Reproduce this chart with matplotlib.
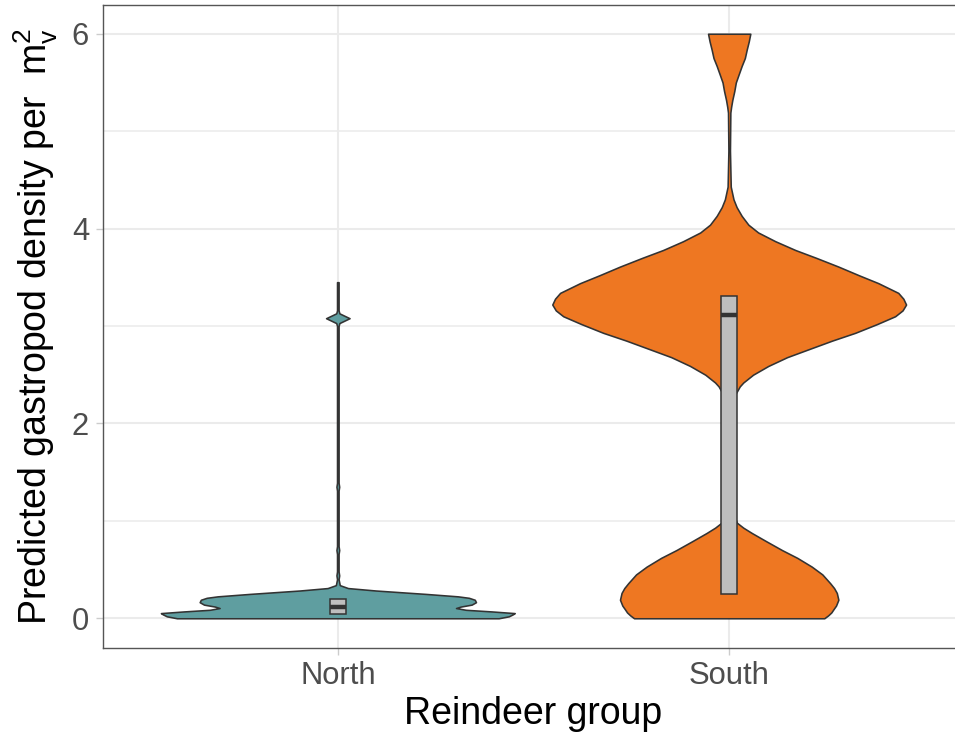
import numpy as np
import matplotlib
matplotlib.use('Agg')
import matplotlib.pyplot as plt

plt.rcParams.update({
    'font.family': ['Liberation Sans', 'DejaVu Sans'],
    'mathtext.fontset': 'custom',
    'mathtext.rm': 'Liberation Sans',
    'mathtext.it': 'Liberation Sans',
    'mathtext.bf': 'Liberation Sans:bold',
})

# ---------------------------------------------------------------------------
# data
# ---------------------------------------------------------------------------
groups = ['North', 'South']
fill_colors = ['#5F9EA0', '#EE7722']

# violin outline: y values and half-widths (x units)
north_y = [0.00, 0.02, 0.04, 0.053, 0.07, 0.087, 0.105, 0.12, 0.14, 0.165,
           0.19, 0.21, 0.225, 0.25, 0.285, 0.31, 0.34, 0.40, 0.44, 0.48,
           0.66, 0.70, 0.74, 1.31, 1.35, 1.39, 3.00, 3.03, 3.08, 3.13,
           3.16, 3.45]
north_hw = [0.411, 0.437, 0.447, 0.452, 0.394, 0.327, 0.302, 0.314, 0.342,
            0.353, 0.350, 0.335, 0.307, 0.225, 0.097, 0.026, 0.005, 0.002,
            0.0035, 0.002, 0.002, 0.0035, 0.002, 0.002, 0.0035, 0.002, 0.002,
            0.004, 0.030, 0.004, 0.002, 0.002]

south_y = [0.00, 0.03, 0.06, 0.09, 0.13, 0.19, 0.26, 0.31, 0.36, 0.45,
           0.53, 0.62, 0.70, 0.79, 0.875, 0.93, 0.98, 1.10, 1.50, 2.00,
           2.25, 2.33, 2.38, 2.42, 2.50, 2.59, 2.68, 2.76, 2.85, 2.93,
           3.02, 3.10, 3.16, 3.22, 3.28, 3.34, 3.44, 3.52, 3.61, 3.70,
           3.78, 3.87, 3.96, 4.04, 4.13, 4.22, 4.30, 4.43, 4.80, 5.19,
           5.25, 5.32, 5.41, 5.50, 5.58, 5.67, 5.75, 5.84, 5.92, 6.00]
south_hw = [0.243, 0.253, 0.261, 0.266, 0.273, 0.279, 0.275, 0.268, 0.258,
            0.238, 0.211, 0.174, 0.135, 0.095, 0.058, 0.036, 0.020, 0.008,
            0.004, 0.004, 0.008, 0.020, 0.027, 0.036, 0.061, 0.100, 0.148,
            0.202, 0.263, 0.322, 0.378, 0.424, 0.443, 0.452, 0.445, 0.432,
            0.381, 0.332, 0.279, 0.222, 0.169, 0.118, 0.074, 0.049, 0.032,
            0.019, 0.011, 0.004, 0.002, 0.003, 0.005, 0.008, 0.013, 0.017,
            0.024, 0.032, 0.040, 0.045, 0.050, 0.054]

# box statistics
box_q1 = [0.043, 0.25]
box_med = [0.12, 3.115]
box_q3 = [0.197, 3.31]

y_ticks = [0, 2, 4, 6]
x_title = 'Reindeer group'
y_title = 'Predicted gastropod density per  m$^{2}_{v}$'

# ---------------------------------------------------------------------------
# figure
# ---------------------------------------------------------------------------
fig = plt.figure(figsize=(9.55, 7.35), dpi=100)
ax = fig.add_axes([103 / 955, 1 - 647.5 / 735, 861 / 955, 643 / 735])

edge = '#333333'
grid_c = '#EBEBEB'

ax.set_xlim(0.4, 2.6)
ax.set_ylim(-0.3, 6.3)

# grid
for yv in [1, 3, 5]:
    ax.axhline(yv, color=grid_c, lw=1.1, zorder=0)
for yv in y_ticks:
    ax.axhline(yv, color=grid_c, lw=1.5, zorder=0)
for xv in [1, 2]:
    ax.axvline(xv, color=grid_c, lw=1.5, zorder=0)

profiles = [(north_y, north_hw), (south_y, south_hw)]
for i, (yy, hw) in enumerate(profiles):
    xc = i + 1
    yy = np.array(yy)
    hw = np.array(hw)
    ax.fill_betweenx(yy, xc - hw, xc + hw, facecolor=fill_colors[i],
                     edgecolor=edge, linewidth=1.15, joinstyle='round',
                     zorder=2)

pos = np.arange(1, len(groups) + 1)
box_w = 0.042
ax.bar(pos, np.array(box_q3) - np.array(box_q1), bottom=box_q1,
       width=box_w, color='#BEBEBE', edgecolor=edge, linewidth=1.1,
       zorder=3)
ax.hlines(box_med, pos - box_w / 2, pos + box_w / 2, color=edge,
          linewidth=3.2, zorder=4)

ax.set_xticks(pos)
ax.set_xticklabels(groups)
ax.set_yticks(y_ticks)
ax.tick_params(axis='both', length=5, width=1.0, color='#CCCCCC',
               labelsize=22.3, labelcolor='#4D4D4D', pad=5)

for sp in ax.spines.values():
    sp.set_color('#555555')
    sp.set_linewidth(1.0)
    sp.set_zorder(5)

ax.set_xlabel(x_title, fontsize=27, va='baseline')
ax.xaxis.set_label_coords(0.5, -0.119)
ax.set_ylabel(y_title, fontsize=27, va='baseline')
ax.yaxis.set_label_coords(-0.0639, 0.5)

fig.savefig('out.png', dpi=100)
